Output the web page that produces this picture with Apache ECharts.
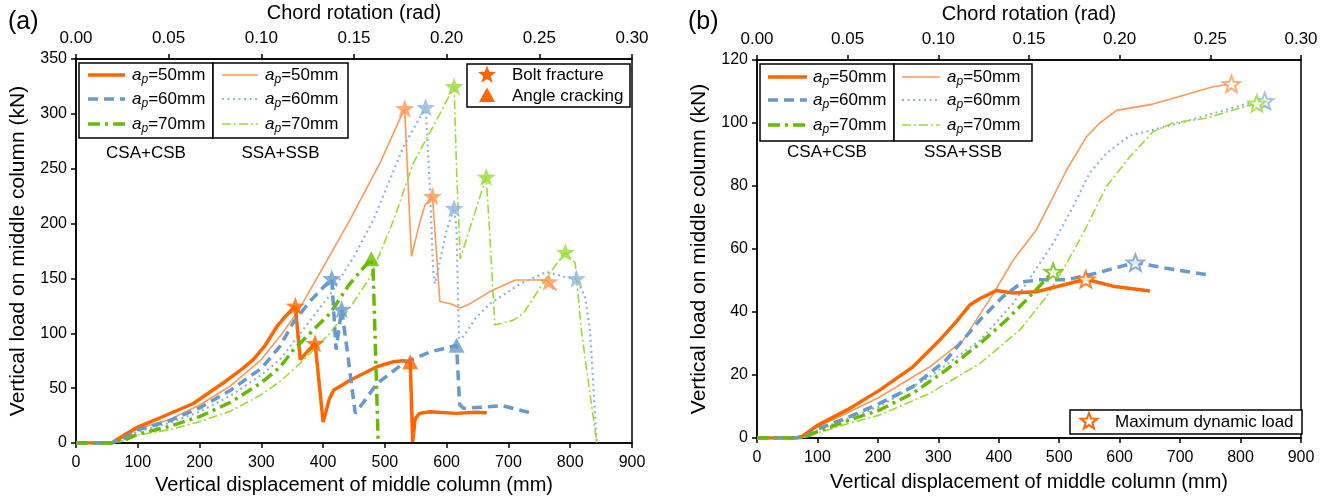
<!DOCTYPE html>
<html>
<head>
<meta charset="utf-8">
<script src="https://cdn.jsdelivr.net/npm/echarts@6/dist/echarts.min.js"></script>
<style>
html,body{margin:0;padding:0;background:#fff;}
#chart{width:1336px;height:496px;}
</style>
</head>
<body>
<div id="chart"></div>
<script>
// ---------------- DATA ----------------
// Panel (a): displacement (mm), load (kN)
const A_CSA50 = [[0,0],[58,0],[66,3],[80,8],[98,14],[136,23],[190,36],[244,57],[270,68],[287,76],[305,88],[325,106],[340,116],[355,125],[363,76],[387,91],[400,19],[410,40],[417,48],[443,57],[487,69.5],[513,74],[530,75],[541,74],[545,1],[549,22],[556,27],[573,28.5],[616,27],[646,28],[665,27.5]];
const A_CSA60 = [[0,0],[58,0],[80,5],[100,12],[150,20],[200,32],[250,48],[300,68],[330,88],[352,110],[380,130],[414,150],[421,85],[430,122],[440,80],[452,27],[460,33],[487,54],[530,72.6],[573,83],[616,89],[621,35],[627,31.6],[640,32],[690,34],[740,27]];
const A_CSA70 = [[0,0],[58,0],[80,3],[100,8],[150,15],[200,24],[250,37],[300,55],[330,69],[352,85],[411,118],[443,145],[478,168],[481,157],[485,80],[489,4],[492,0]];
const A_SSA50 = [[0,0],[57,0],[80,6],[100,13],[150,21],[200,34.6],[250,52],[300,76],[330,97],[357,118],[400,160],[443,203],[492,255],[532,305],[543,170],[556,200],[565,217],[577,225],[589,129],[606,127],[622,123],[638,127],[670,138],[711,148.5],[762,148.5],[765,147],[778,139]];
const A_SSA60 = [[0,0],[58,0],[80,4],[100,10.3],[150,18],[200,28.5],[250,43],[300,62],[330,76],[352,92],[411,135],[450,170],[481,203],[530,270],[566,306],[573,230],[578,160],[581,145],[600,194],[612,214],[616,194],[620,95],[627,97],[647,114],[670,127],[719,145],[762,156],[794,151],[810,150],[824,133],[832,103],[837,57],[843,0]];
const A_SSA70 = [[0,0],[58,0],[80,2.5],[100,7.3],[150,12],[200,19.4],[250,29],[300,44],[330,56],[360,71],[411,100],[443,123],[476,151],[514,203],[546,255],[589,300],[612,325],[616,249],[622,168],[664,242.5],[670,188],[678,107.5],[708,112],[724,118],[762,151],[792,174],[808,164],[818,103],[829,57],[843,0]];

// Panel (a) failure markers
const A_CSA50_bolt = [[355,125],[387,91]];
const A_CSA50_angle = [[541,74]];
const A_CSA60_bolt = [[414,150],[430,122]];
const A_CSA60_angle = [[616,89]];
const A_CSA70_angle = [[478,168]];
const A_SSA50_bolt = [[532,305],[577,225],[765,147]];
const A_SSA60_bolt = [[566,306],[612,214],[810,150]];
const A_SSA70_bolt = [[612,325],[664,242.5],[792,174]];

// Panel (b)
const B_CSA50 = [[0,0],[65,0],[75,0.6],[100,4],[150,9],[203,15.2],[258,22.6],[302,31],[330,37],[352,42.2],[369,44.3],[396,46.8],[424,46],[462,46.4],[495,48],[544,50.4],[589,48.2],[650,46.7]];
const B_CSA60 = [[0,0],[65,0],[80,0.5],[100,2.8],[150,6.5],[203,11],[258,16.3],[313,24.8],[369,37.5],[407,44.9],[440,49.6],[468,50.2],[512,50.2],[561,52.3],[626,55.7],[677,53.9],[749,51.7]];
const B_CSA70 = [[0,0],[65,0],[80,0.3],[100,2],[150,5.5],[203,8.9],[258,14.2],[313,21.6],[369,30],[413,37.5],[451,44.9],[490,52.8]];
const B_SSA50 = [[0,0],[65,0],[75,0.5],[100,3.5],[150,8],[203,13],[250,18.5],[286,22.6],[341,31],[390,45.5],[424,56.5],[462,66],[479,72.4],[512,85],[545,95.6],[567,100],[595,104],[655,106],[699,108.4],[754,111.5],[785,112.4]];
const B_SSA60 = [[0,0],[65,0],[80,0.4],[100,2.5],[150,6.2],[203,10],[286,19.5],[369,31],[424,42.8],[457,52.3],[490,61.8],[523,73.4],[550,84],[578,90.4],[617,96],[655,97.8],[699,100],[754,103],[809,106],[840,107],[848,104.7]];
const B_SSA70 = [[0,0],[65,0],[80,0.3],[100,1.6],[150,4.5],[203,7.3],[286,14.2],[369,23.7],[435,34.3],[479,44.9],[512,55.4],[534,63],[545,67],[578,79.8],[617,89.3],[655,97.2],[688,100],[743,101.5],[798,104.7],[827,106.2],[851,104.3]];

// Panel (b) maximum dynamic load markers
const B_CSA50_max = [[544,50.4]];
const B_CSA60_max = [[626,55.7]];
const B_CSA70_max = [[490,52.8]];
const B_SSA50_max = [[785,112.4]];
const B_SSA60_max = [[840,107]];
const B_SSA70_max = [[827,106.2]];

// Axis ticks / labels
const DISP_TICKS = {min:0, max:900, interval:100};
const ROT_TICKS = {min:0, max:0.30, interval:0.05};
const LOAD_A = {min:0, max:350, interval:50};
const LOAD_B = {min:0, max:120, interval:20};
const LEGEND_LABELS = ['50','60','70'];
const GROUP_LABELS = ['CSA+CSB','SSA+SSB'];
const MARKER_LABELS_A = ['Bolt fracture','Angle cracking'];
const MARKER_LABEL_B = 'Maximum dynamic load';

// ---------------- STYLES ----------------
const FONT = '"Liberation Sans", Arial, sans-serif';
const ST = {
  csa50:{color:'#FF6600', width:3.5, type:'solid'},
  csa60:{color:'#6699CC', width:3.5, type:[10,6]},
  csa70:{color:'#66BB00', width:3.5, type:[12,5,3,5]},
  ssa50:{color:'#FF9955', width:1.6, type:'solid'},
  ssa60:{color:'#8FB4DC', width:2.2, type:[2,3.5]},
  ssa70:{color:'#99DD33', width:1.6, type:[9,3,2,3]}
};

function starPts(cx, cy, R){
  const pts=[]; const r=R*0.42;
  for(let i=0;i<10;i++){
    const a=-Math.PI/2+i*Math.PI/5; const rr=(i%2)?r:R;
    pts.push([cx+rr*Math.cos(a), cy+rr*Math.sin(a)]);
  }
  return pts;
}
const STAR_PATH = 'path://' + starPts(10,10,10).map((p,i)=>(i?'L':'M')+p[0].toFixed(3)+','+p[1].toFixed(3)).join(' ')+' Z';

function lineSeries(name, data, st, xi, yi){
  return {type:'line', name, data, xAxisIndex:xi, yAxisIndex:yi, showSymbol:false, symbol:'none', smooth:false,
    lineStyle:{color:st.color, width:st.width, type:st.type}, itemStyle:{color:st.color}, z:3, silent:true, animation:false};
}
function markSeries(name, data, st, xi, yi, sym, size, hollow){
  return {type:'scatter', name, data, xAxisIndex:xi, yAxisIndex:yi, symbol:sym, symbolSize:size, symbolKeepAspect:true,
    itemStyle: hollow ? {color:'#fff', borderColor:st.color, borderWidth:2} : {color:st.color},
    z:6, silent:true, animation:false};
}

const series = [
  lineSeries('A_SSA50', A_SSA50, ST.ssa50, 0, 0),
  lineSeries('A_SSA60', A_SSA60, ST.ssa60, 0, 0),
  lineSeries('A_SSA70', A_SSA70, ST.ssa70, 0, 0),
  lineSeries('A_CSA50', A_CSA50, ST.csa50, 0, 0),
  lineSeries('A_CSA60', A_CSA60, ST.csa60, 0, 0),
  lineSeries('A_CSA70', A_CSA70, ST.csa70, 0, 0),
  markSeries('A_SSA50_bolt', A_SSA50_bolt, ST.ssa50, 0, 0, STAR_PATH, 19),
  markSeries('A_SSA60_bolt', A_SSA60_bolt, ST.ssa60, 0, 0, STAR_PATH, 19),
  markSeries('A_SSA70_bolt', A_SSA70_bolt, ST.ssa70, 0, 0, STAR_PATH, 19),
  markSeries('A_CSA50_bolt', A_CSA50_bolt, ST.csa50, 0, 0, STAR_PATH, 19),
  markSeries('A_CSA60_bolt', A_CSA60_bolt, ST.csa60, 0, 0, STAR_PATH, 19),
  markSeries('A_CSA50_angle', A_CSA50_angle, ST.csa50, 0, 0, 'triangle', [16,15]),
  markSeries('A_CSA60_angle', A_CSA60_angle, ST.csa60, 0, 0, 'triangle', [16,15]),
  markSeries('A_CSA70_angle', A_CSA70_angle, ST.csa70, 0, 0, 'triangle', [16,15]),

  lineSeries('B_SSA50', B_SSA50, ST.ssa50, 2, 1),
  lineSeries('B_SSA60', B_SSA60, ST.ssa60, 2, 1),
  lineSeries('B_SSA70', B_SSA70, ST.ssa70, 2, 1),
  lineSeries('B_CSA50', B_CSA50, ST.csa50, 2, 1),
  lineSeries('B_CSA60', B_CSA60, ST.csa60, 2, 1),
  lineSeries('B_CSA70', B_CSA70, ST.csa70, 2, 1),
  markSeries('B_SSA50_max', B_SSA50_max, ST.ssa50, 2, 1, STAR_PATH, 17, true),
  markSeries('B_SSA60_max', B_SSA60_max, ST.ssa60, 2, 1, STAR_PATH, 17, true),
  markSeries('B_SSA70_max', B_SSA70_max, ST.ssa70, 2, 1, STAR_PATH, 17, true),
  markSeries('B_CSA50_max', B_CSA50_max, ST.csa50, 2, 1, STAR_PATH, 17, true),
  markSeries('B_CSA60_max', B_CSA60_max, ST.csa60, 2, 1, STAR_PATH, 17, true),
  markSeries('B_CSA70_max', B_CSA70_max, ST.csa70, 2, 1, STAR_PATH, 17, true)
];

// ---------------- AXES ----------------
const axisLineS = {show:true, lineStyle:{color:'#000', width:1.5}};
const tickS = {show:true, inside:false, length:5, lineStyle:{color:'#000', width:1.5}};
function xBottom(grid, gap, margin){
  return {type:'value', gridIndex:grid, position:'bottom', min:DISP_TICKS.min, max:DISP_TICKS.max, interval:DISP_TICKS.interval,
    name:'Vertical displacement of middle column (mm)', nameLocation:'middle', nameGap:gap,
    nameTextStyle:{fontFamily:FONT, fontSize:20, color:'#000'},
    axisLine:axisLineS, axisTick:tickS, splitLine:{show:false},
    axisLabel:{fontFamily:FONT, fontSize:16, color:'#000', margin:margin}};
}
function xTop(grid){
  return {type:'value', gridIndex:grid, position:'top', min:ROT_TICKS.min, max:ROT_TICKS.max, interval:ROT_TICKS.interval,
    name:'Chord rotation (rad)', nameLocation:'middle', nameGap:36,
    nameTextStyle:{fontFamily:FONT, fontSize:20, color:'#000'},
    axisLine:axisLineS, axisTick:tickS, splitLine:{show:false},
    axisLabel:{fontFamily:FONT, fontSize:17, color:'#000', margin:12, formatter:v=>v.toFixed(2)}};
}
function yLeft(grid, rng){
  return {type:'value', gridIndex:grid, min:rng.min, max:rng.max, interval:rng.interval,
    name:'Vertical load on middle column (kN)', nameLocation:'middle', nameGap:47,
    nameTextStyle:{fontFamily:FONT, fontSize:21, color:'#000'},
    axisLine:axisLineS, axisTick:tickS, splitLine:{show:false},
    axisLabel:{fontFamily:FONT, fontSize:16, color:'#000', margin:9}};
}

// ---------------- LEGENDS (graphic) ----------------
const graphic = [];
function txt(x, y, t, opts){
  graphic.push({type:'text', x, y, silent:true, z:20, style:Object.assign({text:t, fontFamily:FONT, fontSize:17, fill:'#000', textVerticalAlign:'middle', verticalAlign:'middle'}, opts||{})});
}
function rect(x,y,w,h){
  graphic.push({type:'rect', silent:true, z:19, shape:{x,y,width:w,height:h}, style:{fill:'#fff', stroke:'#000', lineWidth:1.5}});
}
function lineSample(x1,x2,y,st){
  graphic.push({type:'line', silent:true, z:21, shape:{x1,y1:y,x2,y2:y}, style:{stroke:st.color, lineWidth:st.width, lineDash: Array.isArray(st.type)?st.type:null}});
}
const RICH = {
  i:{fontFamily:FONT, fontSize:17, fontStyle:'italic', fill:'#000'},
  s:{fontFamily:FONT, fontSize:12, fontStyle:'italic', fill:'#000', padding:[9,0,0,0]},
  t:{fontFamily:FONT, fontSize:17, fill:'#000'}
};
function apText(x, y, v){
  graphic.push({type:'text', x, y, silent:true, z:21, style:{text:'{i|a}{s|p}{t|=' + v + 'mm}', rich:RICH, textVerticalAlign:'middle', verticalAlign:'middle', fontFamily:FONT, fontSize:17}});
}
function seriesLegend(bx, by, w1, w2, h, rows, lx1, lx2, tx1, lx3, lx4, tx3, labY){
  rect(bx, by, w1, h); rect(bx+w1, by, w2, h);
  const csa=[ST.csa50, ST.csa60, ST.csa70], ssa=[ST.ssa50, ST.ssa60, ST.ssa70];
  rows.forEach((ry,i)=>{
    lineSample(lx1, lx2, ry, csa[i]); apText(tx1, ry, LEGEND_LABELS[i]);
    lineSample(lx3, lx4, ry, ssa[i]); apText(tx3, ry, LEGEND_LABELS[i]);
  });
  txt(bx + w1/2, labY, GROUP_LABELS[0], {textAlign:'center', align:'center'});
  txt(bx + w1 + w2/2, labY, GROUP_LABELS[1], {textAlign:'center', align:'center'});
}
// panel (a)
seriesLegend(79, 63, 134, 135, 75, [75,99,124], 88, 125, 132, 222, 258, 265, 153);
// panel (b)
seriesLegend(760, 64, 134, 138, 77, [77,100,125], 768, 807, 813, 902, 940, 947, 152);

// marker legend (a)
rect(467, 64, 163, 43);
graphic.push({type:'polygon', silent:true, z:21, shape:{points:starPts(487,75,9.5)}, style:{fill:ST.csa50.color}});
graphic.push({type:'polygon', silent:true, z:21, shape:{points:[[487,87.5],[495,102],[479,102]]}, style:{fill:ST.csa50.color}});
txt(512, 75, MARKER_LABELS_A[0]);
txt(512, 96, MARKER_LABELS_A[1]);
// marker legend (b)
rect(1070, 410, 232, 24);
graphic.push({type:'polygon', silent:true, z:21, shape:{points:starPts(1089,421.5,8.5)}, style:{fill:'#fff', stroke:ST.csa50.color, lineWidth:2}});
txt(1115, 422, MARKER_LABEL_B);

// panel tags
txt(8, 22, '(a)', {fontSize:25});
txt(688, 22, '(b)', {fontSize:25});

// ---------------- CHART ----------------
const chart = echarts.init(document.getElementById('chart'), null, {renderer:'canvas'});
chart.setOption({
  backgroundColor:'#fff',
  animation:false,
  textStyle:{fontFamily:FONT},
  grid:[
    {left:76, right:704, top:59, bottom:53, show:true, borderColor:'#000', borderWidth:1.5, backgroundColor:'transparent', containLabel:false, outerBoundsMode:'none'},
    {left:757, right:35, top:60, bottom:58, show:true, borderColor:'#000', borderWidth:1.5, backgroundColor:'transparent', containLabel:false, outerBoundsMode:'none'}
  ],
  xAxis:[xBottom(0, 29, 12), xTop(0), xBottom(1, 34, 12), xTop(1)],
  yAxis:[yLeft(0, LOAD_A), yLeft(1, LOAD_B)],
  series,
  graphic
});
</script>
</body>
</html>
